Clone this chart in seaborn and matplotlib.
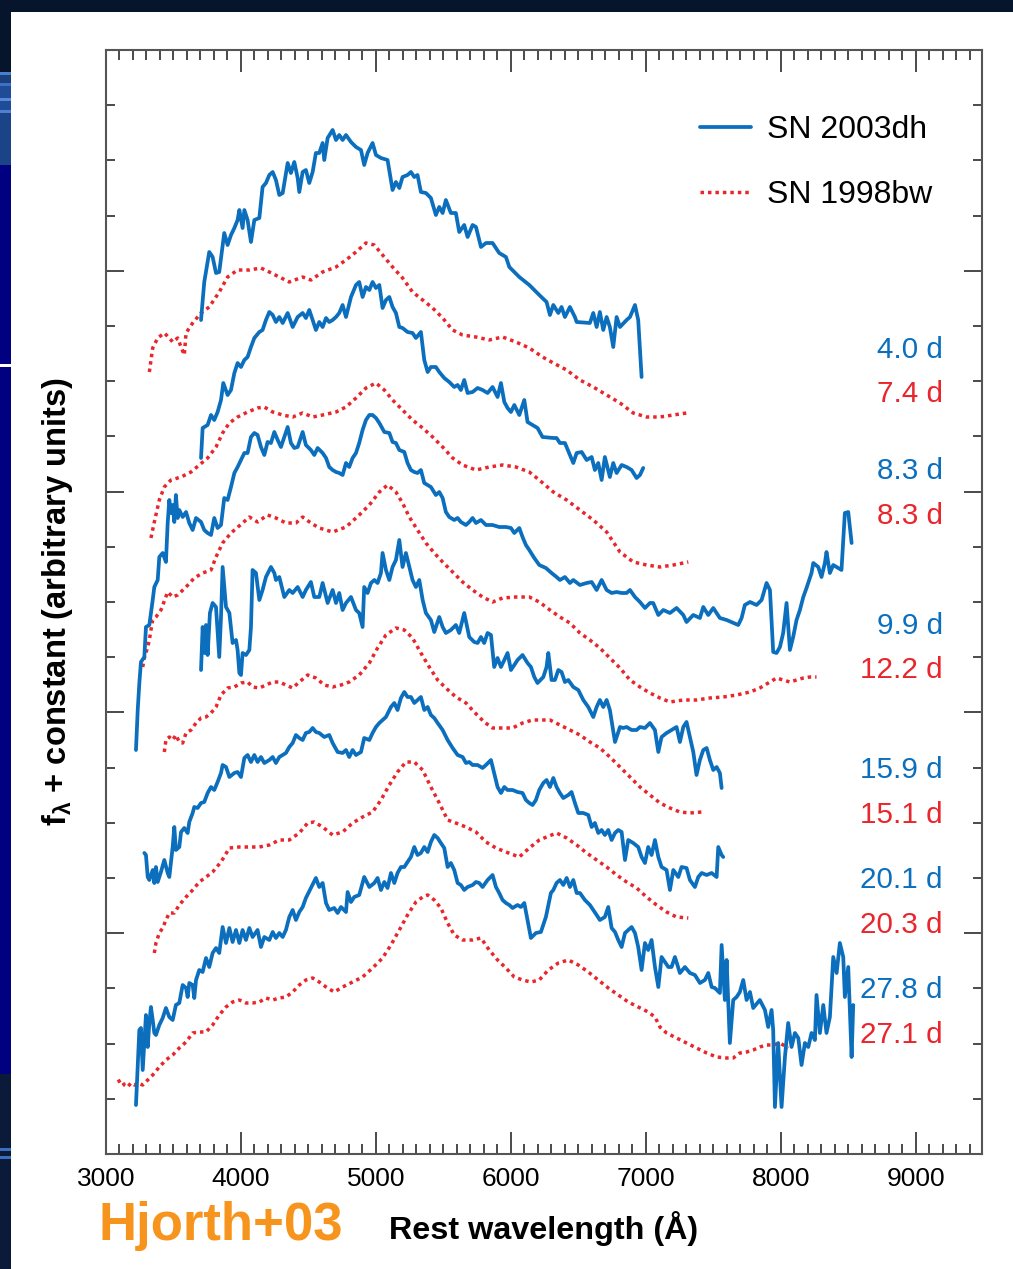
import matplotlib
matplotlib.use("Agg")
import matplotlib.pyplot as plt
import pandas as pd
import seaborn as sns
from matplotlib.lines import Line2D
from matplotlib.patches import Rectangle
from matplotlib.ticker import MultipleLocator

# ---------------------------------------------------------------------------
# Spectra: (rest wavelength [Angstrom], f_lambda + constant [arbitrary units])
# ---------------------------------------------------------------------------
dh_040 = [(3704, 83.4), (3728, 87.2), (3765, 90.2), (3790, 89.7), (3815, 88.1), (3839, 88.2),
          (3876, 92.1), (3901, 90.9), (3926, 91.9), (3951, 92.6), (3975, 93.4), (3988, 94.4),
          (4012, 92.6), (4025, 94.4), (4049, 93.4), (4074, 91.2), (4099, 93.4), (4136, 93.6),
          (4160, 96.7), (4185, 97.1), (4210, 97.9), (4235, 98.2), (4259, 97.4), (4284, 95.9),
          (4309, 96.1), (4346, 99.1), (4370, 98.1), (4395, 99.2), (4420, 97.6), (4432, 96.2),
          (4457, 98.2), (4481, 98.4), (4506, 97.1), (4531, 98.2), (4555, 100.1), (4580, 100.1),
          (4605, 101.1), (4617, 99.4), (4642, 101.6), (4679, 102.4), (4704, 101.4), (4728, 101.9),
          (4753, 101.4), (4778, 101.9), (4815, 101.2), (4852, 100.7), (4889, 100.4), (4913, 98.9),
          (4938, 100.1), (4975, 101.1), (5000, 99.9), (5037, 99.6), (5086, 99.4), (5123, 96.4),
          (5148, 97.2), (5173, 96.6), (5197, 97.7), (5234, 97.9), (5259, 98.2), (5284, 97.7),
          (5308, 97.9), (5333, 96.2), (5370, 96.1), (5407, 95.6), (5444, 93.9), (5469, 94.7),
          (5494, 94.1), (5518, 95.4), (5555, 94.1), (5592, 94.1), (5617, 92.2), (5654, 92.9),
          (5679, 91.7), (5716, 92.9), (5741, 92.7), (5778, 90.7), (5815, 91.1), (5864, 91.1),
          (5913, 90.1), (5963, 89.7), (5988, 88.7), (6062, 87.7), (6136, 86.9), (6210, 85.9),
          (6264, 85.2), (6289, 83.9), (6314, 84.9), (6351, 84.1), (6375, 84.7), (6400, 83.7),
          (6437, 84.7), (6474, 83.7), (6487, 83.2), (6585, 83.1), (6610, 84.1), (6635, 82.7),
          (6659, 84.2), (6684, 82.4), (6709, 83.7), (6733, 82.7), (6758, 80.7), (6783, 83.7),
          (6808, 82.7), (6857, 83.4), (6882, 83.7), (6919, 84.9), (6943, 83.4), (6968, 77.7)]

dh_083 = [(3704, 69.6), (3716, 72.6), (3753, 72.9), (3778, 73.9), (3802, 73.4), (3827, 74.2),
          (3852, 75.4), (3869, 77.1), (3901, 75.9), (3926, 76.4), (3951, 78.1), (3975, 79.1),
          (4000, 78.7), (4025, 79.4), (4049, 79.7), (4074, 80.7), (4099, 81.6), (4136, 82.2),
          (4160, 82.4), (4185, 83.4), (4210, 84.2), (4235, 83.9), (4259, 83.2), (4284, 83.7),
          (4309, 83.1), (4346, 84.1), (4383, 82.7), (4420, 83.7), (4457, 84.1), (4481, 83.6),
          (4506, 84.4), (4531, 83.4), (4555, 82.4), (4580, 83.2), (4605, 82.7), (4630, 83.6),
          (4654, 83.2), (4679, 83.4), (4704, 83.7), (4728, 84.1), (4753, 84.9), (4778, 83.7),
          (4815, 85.7), (4852, 86.9), (4876, 87.2), (4901, 85.7), (4926, 86.7), (4951, 86.4),
          (4975, 87.2), (5000, 86.6), (5025, 86.9), (5049, 84.6), (5074, 85.4), (5099, 85.7),
          (5123, 84.7), (5148, 84.1), (5173, 82.7), (5197, 82.6), (5234, 82.2), (5271, 82.1),
          (5296, 81.6), (5333, 82.2), (5358, 79.4), (5383, 78.2), (5407, 78.7), (5444, 78.7),
          (5469, 78.2), (5506, 77.6), (5543, 77.2), (5580, 76.7), (5605, 76.9), (5629, 76.4),
          (5654, 77.4), (5679, 76.1), (5716, 76.2), (5753, 76.6), (5790, 76.4), (5827, 76.1),
          (5864, 76.7), (5901, 75.7), (5926, 77.1), (5951, 75.2), (5975, 74.6), (6000, 74.2),
          (6025, 74.9), (6062, 73.9), (6099, 75.4), (6123, 73.2), (6160, 72.9), (6197, 72.6),
          (6234, 71.7), (6314, 71.6), (6338, 71.6), (6363, 71.1), (6400, 71.1), (6437, 69.9),
          (6462, 69.1), (6487, 70.1), (6524, 70.2), (6561, 69.4), (6598, 69.7), (6622, 68.4),
          (6647, 69.1), (6672, 67.4), (6696, 69.7), (6733, 67.7), (6758, 69.1), (6783, 68.1),
          (6820, 68.9), (6857, 68.7), (6894, 68.4), (6931, 67.6), (6956, 67.9), (6980, 68.6)]

dh_099 = [(3222, 40.4), (3235, 44.4), (3247, 47.1), (3259, 49.2), (3284, 49.7), (3296, 52.7),
          (3321, 52.9), (3346, 55.4), (3358, 56.7), (3383, 57.4), (3395, 59.7), (3420, 60.1),
          (3444, 59.2), (3457, 63.1), (3469, 65.4), (3481, 64.1), (3494, 64.9), (3506, 63.2),
          (3518, 65.9), (3531, 63.6), (3543, 64.4), (3568, 63.7), (3593, 64.2), (3617, 63.1),
          (3642, 62.4), (3667, 63.6), (3704, 63.2), (3728, 62.4), (3753, 62.1), (3778, 61.9),
          (3802, 63.6), (3827, 62.6), (3852, 62.9), (3876, 65.6), (3901, 65.4), (3926, 66.7),
          (3951, 68.1), (3975, 68.7), (4000, 69.4), (4025, 70.1), (4049, 70.1), (4074, 71.7),
          (4099, 72.1), (4123, 71.9), (4148, 70.7), (4173, 69.9), (4197, 71.2), (4222, 71.1),
          (4247, 72.2), (4272, 71.4), (4296, 70.7), (4321, 71.7), (4346, 72.7), (4370, 71.1),
          (4395, 70.6), (4420, 70.7), (4457, 72.2), (4481, 70.9), (4518, 70.4), (4543, 69.9),
          (4568, 70.6), (4605, 70.1), (4630, 69.6), (4654, 68.7), (4679, 68.4), (4704, 68.2),
          (4728, 68.1), (4753, 67.9), (4778, 69.1), (4802, 68.7), (4827, 69.6), (4852, 70.1),
          (4876, 71.1), (4901, 72.4), (4926, 73.4), (4951, 73.9), (4975, 73.9), (5000, 73.6),
          (5025, 73.1), (5062, 72.2), (5099, 72.1), (5123, 71.2), (5148, 71.1), (5173, 70.4),
          (5210, 70.2), (5234, 69.1), (5259, 68.4), (5284, 68.2), (5308, 68.1), (5333, 68.4),
          (5358, 67.1), (5383, 66.9), (5407, 66.7), (5444, 65.9), (5469, 66.2), (5494, 65.6),
          (5518, 64.2), (5543, 63.7), (5580, 63.4), (5605, 63.6), (5629, 63.2), (5667, 62.9),
          (5691, 63.2), (5716, 63.6), (5741, 63.1), (5778, 63.4), (5815, 62.9), (5864, 62.9),
          (5913, 62.7), (5963, 62.7), (6000, 62.6), (6025, 62.1), (6062, 62.6), (6086, 61.7),
          (6111, 60.9), (6136, 60.4), (6173, 59.6), (6210, 58.9), (6259, 58.6), (6301, 58.1),
          (6338, 57.7), (6363, 57.4), (6400, 57.7), (6437, 57.1), (6462, 57.4), (6511, 56.9),
          (6561, 57.1), (6598, 57.2), (6635, 56.4), (6672, 57.4), (6709, 56.4), (6746, 56.1),
          (6783, 56.2), (6820, 56.1), (6857, 56.1), (6882, 56.4), (6919, 55.7), (6956, 55.2),
          (6993, 54.6), (7030, 55.1), (7054, 55.1), (7092, 53.9), (7129, 54.4), (7178, 54.1),
          (7227, 54.6), (7277, 53.9), (7301, 53.2), (7351, 53.9), (7400, 53.6), (7425, 54.7),
          (7462, 53.9), (7499, 54.6), (7548, 53.6), (7598, 53.4), (7684, 52.9), (7709, 53.6),
          (7733, 54.9), (7771, 55.2), (7820, 54.9), (7857, 55.4), (7894, 57.1), (7919, 56.4),
          (7943, 50.2), (7968, 50.1), (7993, 50.7), (8017, 52.1), (8042, 55.1), (8067, 50.4),
          (8091, 51.7), (8116, 53.4), (8141, 54.4), (8166, 55.7), (8190, 56.6), (8227, 58.1),
          (8240, 59.1), (8277, 58.7), (8301, 57.7), (8326, 59.1), (8338, 60.2), (8363, 58.1),
          (8388, 58.9), (8425, 58.6), (8449, 58.4), (8474, 64.1), (8499, 64.2), (8524, 61.1)]

dh_159 = [(3704, 48.4), (3716, 52.7), (3731, 50.1), (3741, 52.9), (3753, 49.9), (3770, 54.1),
          (3790, 55.1), (3815, 54.7), (3839, 49.7), (3852, 53.7), (3864, 58.7), (3889, 54.7),
          (3914, 54.1), (3938, 51.1), (3963, 51.4), (3975, 50.4), (3988, 48.1), (4000, 47.9),
          (4012, 50.1), (4037, 49.9), (4062, 50.4), (4074, 52.7), (4086, 58.4), (4111, 58.1),
          (4136, 55.4), (4160, 56.4), (4185, 57.7), (4222, 58.7), (4247, 58.1), (4259, 57.4),
          (4284, 57.7), (4321, 55.7), (4358, 56.4), (4383, 56.1), (4420, 56.7), (4457, 55.7),
          (4481, 56.4), (4518, 57.2), (4543, 55.7), (4580, 55.7), (4605, 57.1), (4642, 55.1),
          (4679, 56.4), (4704, 55.1), (4728, 56.1), (4753, 54.4), (4778, 55.1), (4815, 55.7),
          (4852, 54.4), (4876, 54.1), (4901, 52.7), (4913, 56.7), (4938, 56.1), (4963, 57.1),
          (4988, 57.4), (5012, 57.1), (5037, 58.1), (5049, 60.1), (5074, 58.4), (5099, 57.4),
          (5123, 58.7), (5148, 59.4), (5173, 61.4), (5197, 58.7), (5222, 60.1), (5247, 58.7),
          (5271, 57.4), (5296, 56.7), (5321, 57.4), (5346, 55.4), (5370, 54.1), (5407, 53.4),
          (5432, 52.2), (5469, 53.7), (5494, 52.7), (5518, 52.1), (5555, 52.4), (5592, 52.9),
          (5617, 52.1), (5654, 54.1), (5691, 51.7), (5728, 51.2), (5753, 51.1), (5778, 51.7),
          (5802, 51.1), (5827, 52.1), (5852, 51.9), (5876, 48.7), (5901, 49.6), (5926, 48.7),
          (5951, 49.4), (5975, 50.1), (6000, 48.4), (6025, 48.9), (6049, 49.4), (6086, 49.9),
          (6123, 49.1), (6148, 48.7), (6173, 47.7), (6197, 47.1), (6240, 47.7), (6264, 48.7),
          (6277, 50.1), (6301, 47.4), (6326, 47.4), (6351, 48.4), (6375, 48.2), (6400, 47.2),
          (6425, 47.4), (6462, 46.7), (6499, 46.4), (6536, 45.4), (6573, 44.7), (6610, 43.7),
          (6635, 44.7), (6659, 45.4), (6684, 44.7), (6709, 45.4), (6733, 44.4), (6771, 41.2),
          (6808, 42.7), (6832, 42.6), (6857, 42.7), (6894, 42.4), (6931, 42.4), (6956, 42.7),
          (6993, 42.6), (7030, 43.1), (7067, 42.4), (7092, 40.2), (7116, 41.7), (7153, 42.1),
          (7190, 42.4), (7227, 42.7), (7252, 41.2), (7277, 42.7), (7301, 43.2), (7326, 41.7),
          (7351, 40.2), (7375, 37.9), (7400, 39.4), (7425, 40.4), (7450, 40.6), (7474, 39.4),
          (7499, 38.4), (7524, 38.7), (7548, 38.1), (7561, 36.6)]

dh_201 = [(3284, 30.1), (3296, 29.9), (3309, 27.7), (3321, 27.4), (3346, 28.4), (3358, 27.1),
          (3370, 28.7), (3383, 27.2), (3407, 28.2), (3432, 29.4), (3457, 28.1), (3469, 27.7),
          (3481, 29.1), (3494, 30.7), (3506, 32.7), (3518, 30.4), (3543, 30.7), (3556, 32.2),
          (3580, 32.6), (3605, 32.1), (3617, 33.2), (3642, 34.1), (3654, 34.7), (3679, 34.6),
          (3704, 35.1), (3728, 35.2), (3753, 36.1), (3778, 36.7), (3802, 36.4), (3827, 37.2),
          (3852, 38.1), (3864, 38.9), (3889, 38.7), (3914, 37.7), (3951, 38.1), (3975, 38.2),
          (4000, 37.7), (4025, 39.6), (4049, 39.9), (4074, 39.2), (4099, 39.9), (4123, 39.2),
          (4148, 39.7), (4173, 39.1), (4210, 39.4), (4235, 39.7), (4259, 39.1), (4284, 39.7),
          (4309, 39.9), (4333, 40.1), (4358, 40.7), (4383, 41.1), (4407, 41.9), (4432, 41.6),
          (4457, 41.4), (4481, 42.1), (4506, 42.2), (4531, 42.6), (4555, 42.2), (4580, 42.1),
          (4617, 41.7), (4654, 41.9), (4679, 41.1), (4716, 40.2), (4753, 40.1), (4778, 40.4),
          (4802, 39.7), (4827, 40.4), (4852, 39.9), (4889, 40.2), (4913, 41.6), (4951, 41.4),
          (4975, 42.1), (5000, 42.7), (5025, 43.1), (5049, 43.4), (5074, 43.7), (5111, 44.7),
          (5136, 45.1), (5160, 44.4), (5185, 45.6), (5210, 46.2), (5234, 45.7), (5259, 45.7),
          (5284, 45.1), (5308, 45.4), (5333, 45.7), (5358, 44.4), (5383, 44.7), (5407, 43.9),
          (5432, 43.6), (5457, 43.1), (5494, 42.4), (5531, 41.4), (5568, 40.6), (5605, 39.9),
          (5642, 39.7), (5667, 39.1), (5691, 39.2), (5716, 38.9), (5753, 38.9), (5790, 38.6),
          (5815, 38.9), (5852, 39.4), (5876, 38.1), (5901, 36.7), (5926, 36.1), (5951, 36.7),
          (5975, 36.4), (6012, 36.4), (6049, 36.2), (6086, 36.1), (6111, 35.4), (6136, 35.1),
          (6160, 34.9), (6185, 35.4), (6210, 36.4), (6240, 37.1), (6264, 37.4), (6289, 36.7),
          (6314, 37.6), (6338, 36.7), (6363, 36.1), (6388, 35.6), (6425, 35.9), (6449, 36.2),
          (6474, 35.1), (6499, 34.1), (6536, 34.1), (6573, 33.9), (6598, 32.7), (6622, 33.1),
          (6647, 32.1), (6672, 32.4), (6696, 31.9), (6721, 32.4), (6746, 31.4), (6771, 32.1),
          (6795, 32.4), (6820, 32.2), (6845, 29.4), (6869, 31.4), (6906, 31.1), (6943, 30.7),
          (6968, 29.7), (6993, 29.1), (7017, 30.7), (7042, 29.9), (7067, 31.4), (7092, 29.7),
          (7116, 28.7), (7153, 28.4), (7178, 26.4), (7203, 28.4), (7240, 27.7), (7264, 28.7),
          (7301, 28.6), (7326, 27.4), (7363, 26.7), (7388, 27.7), (7413, 28.1), (7450, 27.9),
          (7487, 28.1), (7524, 27.7), (7536, 30.7), (7561, 29.9), (7573, 29.7)]

dh_278 = [(3222, 4.9), (3235, 8.7), (3247, 12.4), (3259, 12.6), (3272, 8.4), (3284, 11.1),
          (3296, 13.9), (3309, 10.7), (3321, 13.1), (3333, 14.7), (3346, 13.4), (3358, 12.1),
          (3370, 11.9), (3395, 12.9), (3420, 13.6), (3444, 14.6), (3469, 13.7), (3494, 13.4),
          (3518, 14.9), (3543, 15.1), (3568, 16.9), (3593, 16.6), (3605, 15.7), (3617, 17.1),
          (3642, 16.9), (3654, 15.6), (3667, 17.4), (3691, 18.4), (3716, 18.2), (3741, 19.6),
          (3765, 18.7), (3790, 20.1), (3815, 20.6), (3839, 20.1), (3864, 22.7), (3889, 21.1),
          (3914, 22.6), (3938, 21.2), (3963, 22.4), (3988, 21.1), (4012, 22.4), (4037, 21.4),
          (4062, 22.6), (4086, 21.7), (4123, 22.4), (4148, 20.7), (4173, 21.7), (4210, 21.4),
          (4235, 22.2), (4259, 21.6), (4284, 22.1), (4309, 21.7), (4333, 22.4), (4358, 23.7),
          (4383, 24.4), (4407, 23.4), (4432, 24.2), (4457, 24.7), (4481, 25.6), (4518, 26.6),
          (4555, 27.6), (4580, 26.7), (4605, 27.1), (4630, 25.1), (4654, 24.4), (4691, 24.6),
          (4716, 24.1), (4741, 24.7), (4778, 24.2), (4790, 26.2), (4815, 25.2), (4839, 25.7),
          (4876, 25.9), (4913, 27.7), (4951, 26.7), (4988, 27.1), (5012, 27.6), (5037, 26.4),
          (5062, 27.2), (5086, 26.6), (5111, 28.1), (5136, 27.1), (5160, 28.1), (5185, 28.7),
          (5210, 28.7), (5234, 29.2), (5259, 29.7), (5284, 30.7), (5308, 29.9), (5333, 30.1),
          (5358, 30.7), (5383, 30.2), (5407, 31.2), (5432, 31.9), (5457, 31.6), (5481, 31.1),
          (5506, 30.6), (5531, 28.7), (5555, 29.1), (5580, 28.4), (5605, 27.1), (5629, 26.9),
          (5654, 26.4), (5679, 26.7), (5716, 26.9), (5741, 27.2), (5765, 27.1), (5790, 26.7),
          (5827, 27.4), (5864, 27.9), (5889, 26.7), (5913, 26.1), (5938, 25.4), (5963, 25.1),
          (5988, 24.9), (6012, 24.6), (6049, 24.9), (6074, 24.7), (6099, 25.1), (6123, 23.4),
          (6148, 21.6), (6185, 22.1), (6222, 22.2), (6259, 23.7), (6296, 26.1), (6314, 26.4),
          (6338, 27.1), (6363, 27.4), (6388, 26.9), (6413, 27.6), (6437, 26.7), (6462, 27.4),
          (6487, 26.1), (6511, 26.1), (6548, 25.4), (6585, 24.9), (6610, 24.4), (6635, 23.9),
          (6659, 23.4), (6696, 23.7), (6721, 24.7), (6746, 22.6), (6771, 22.2), (6795, 21.4),
          (6820, 20.7), (6845, 22.1), (6869, 22.4), (6894, 22.7), (6919, 22.1), (6943, 20.7),
          (6968, 18.4), (6993, 21.1), (7017, 20.4), (7042, 21.4), (7067, 18.7), (7092, 16.7),
          (7116, 19.7), (7141, 19.2), (7166, 18.7), (7190, 18.7), (7215, 19.7), (7252, 18.1),
          (7289, 18.7), (7326, 18.1), (7363, 17.9), (7400, 17.1), (7437, 17.4), (7462, 18.1),
          (7487, 16.7), (7511, 16.6), (7548, 16.1), (7561, 20.9), (7585, 15.4), (7598, 19.4),
          (7622, 11.1), (7647, 15.4), (7672, 15.7), (7696, 16.2), (7721, 17.4), (7746, 15.4),
          (7771, 16.2), (7795, 14.6), (7844, 15.4), (7882, 14.4), (7906, 12.7), (7931, 14.4),
          (7943, 12.4), (7956, 4.7), (7980, 11.1), (8005, 4.7), (8030, 9.7), (8054, 13.1),
          (8079, 10.7), (8104, 12.1), (8129, 11.6), (8153, 8.9), (8178, 11.1), (8203, 10.7),
          (8227, 12.1), (8252, 11.4), (8264, 15.9), (8289, 12.1), (8314, 14.9), (8338, 12.1),
          (8363, 13.7), (8388, 19.7), (8413, 18.1), (8437, 21.1), (8462, 19.7), (8474, 15.7),
          (8499, 18.7), (8524, 9.7), (8536, 14.9)]

bw_074 = [(3321, 78.2), (3346, 80.6), (3383, 81.6), (3432, 82.1), (3469, 81.6), (3494, 81.2),
          (3531, 81.6), (3556, 80.7), (3580, 79.9), (3593, 82.1), (3642, 83.1), (3704, 84.1),
          (3765, 84.7), (3839, 86.2), (3901, 87.7), (3975, 88.4), (4062, 88.4), (4148, 88.6),
          (4210, 88.2), (4284, 87.7), (4358, 87.2), (4457, 87.7), (4518, 87.4), (4605, 88.2),
          (4704, 88.7), (4778, 89.4), (4852, 90.2), (4926, 91.1), (4988, 90.9), (5049, 89.9),
          (5123, 88.7), (5197, 87.6), (5271, 86.2), (5346, 85.4), (5420, 84.6), (5494, 83.6),
          (5568, 82.4), (5642, 81.9), (5741, 81.7), (5839, 81.4), (5938, 81.7), (6037, 81.2),
          (6136, 80.6), (6234, 79.7), (6314, 79.1), (6413, 78.4), (6511, 77.4), (6610, 76.7),
          (6709, 75.9), (6808, 75.1), (6906, 74.1), (7005, 73.7), (7104, 73.7), (7203, 73.9),
          (7301, 74.1)]

bw_083 = [(3333, 61.6), (3358, 63.2), (3395, 65.4), (3432, 66.7), (3481, 67.4), (3556, 67.7),
          (3630, 68.2), (3691, 68.9), (3753, 69.6), (3815, 70.7), (3864, 72.1), (3914, 73.1),
          (3975, 73.7), (4049, 74.2), (4123, 74.6), (4173, 74.7), (4235, 74.2), (4309, 73.9),
          (4383, 73.7), (4457, 74.1), (4531, 73.7), (4605, 73.9), (4704, 74.2), (4778, 74.7),
          (4852, 75.6), (4926, 76.6), (5000, 77.1), (5062, 76.4), (5123, 75.4), (5197, 74.4),
          (5271, 73.4), (5346, 72.6), (5420, 71.7), (5494, 70.7), (5568, 69.6), (5642, 68.9),
          (5741, 68.4), (5839, 68.7), (5938, 68.9), (6037, 68.7), (6136, 68.2), (6210, 67.4),
          (6314, 66.2), (6413, 65.4), (6511, 64.4), (6610, 63.4), (6709, 62.2), (6808, 60.2),
          (6906, 59.2), (7005, 58.9), (7104, 58.7), (7203, 58.9), (7314, 59.2)]

bw_122 = [(3272, 48.7), (3284, 49.6), (3309, 50.7), (3321, 51.4), (3333, 52.4), (3346, 53.4),
          (3370, 53.7), (3407, 54.4), (3457, 56.2), (3494, 55.7), (3531, 55.9), (3593, 56.7),
          (3654, 57.6), (3716, 58.1), (3778, 58.4), (3815, 59.7), (3864, 61.1), (3926, 62.1),
          (4012, 63.1), (4062, 63.7), (4123, 63.2), (4197, 63.9), (4259, 63.6), (4333, 63.1),
          (4407, 63.1), (4457, 63.7), (4518, 63.1), (4580, 62.6), (4679, 62.2), (4778, 62.7),
          (4876, 63.9), (4951, 64.9), (5025, 66.2), (5086, 66.9), (5148, 66.2), (5197, 65.1),
          (5247, 63.7), (5308, 62.4), (5370, 61.1), (5432, 60.1), (5494, 59.2), (5568, 58.2),
          (5642, 57.2), (5716, 56.4), (5790, 55.7), (5864, 55.2), (5938, 55.6), (6037, 55.7),
          (6136, 55.7), (6210, 55.2), (6289, 54.4), (6363, 53.7), (6437, 53.1), (6511, 52.1),
          (6585, 51.4), (6659, 50.6), (6733, 49.6), (6808, 48.6), (6882, 47.4), (6956, 46.7),
          (7030, 46.1), (7104, 45.6), (7178, 45.2), (7277, 45.4), (7375, 45.4), (7474, 45.6),
          (7573, 45.7), (7672, 45.9), (7771, 46.2), (7844, 46.6), (7919, 47.2), (7968, 47.6),
          (8017, 47.4), (8067, 47.2), (8116, 47.4), (8166, 47.6), (8215, 47.7), (8264, 47.7)]

bw_151 = [(3432, 40.2), (3444, 41.4), (3469, 41.7), (3494, 41.4), (3518, 41.9), (3543, 41.2),
          (3568, 41.1), (3593, 42.1), (3630, 42.4), (3667, 43.1), (3704, 43.6), (3741, 43.7),
          (3778, 44.1), (3815, 44.7), (3852, 45.9), (3901, 46.6), (3951, 46.7), (4000, 47.1),
          (4049, 47.2), (4086, 46.7), (4136, 46.6), (4185, 46.9), (4235, 47.2), (4284, 47.2),
          (4333, 46.9), (4383, 46.6), (4432, 47.2), (4494, 47.9), (4555, 47.6), (4617, 46.9),
          (4679, 46.7), (4741, 46.9), (4802, 47.2), (4876, 47.9), (4951, 49.1), (5012, 50.6),
          (5074, 51.9), (5148, 52.6), (5210, 52.4), (5271, 51.6), (5333, 50.1), (5395, 48.7),
          (5457, 47.4), (5518, 46.6), (5592, 45.7), (5667, 45.1), (5728, 44.2), (5802, 43.2),
          (5864, 42.6), (5938, 42.6), (6012, 42.6), (6086, 43.1), (6160, 43.4), (6234, 43.4),
          (6289, 43.4), (6363, 42.9), (6437, 42.4), (6511, 41.9), (6585, 41.2), (6659, 40.6),
          (6733, 39.7), (6808, 38.7), (6882, 37.7), (6956, 36.7), (7030, 35.9), (7104, 35.1),
          (7178, 34.6), (7252, 34.2), (7326, 34.1), (7413, 34.2)]

bw_203 = [(3358, 20.1), (3370, 21.1), (3395, 22.1), (3420, 22.6), (3444, 23.4), (3469, 24.1),
          (3506, 24.1), (3543, 24.9), (3593, 25.7), (3642, 26.4), (3691, 27.2), (3741, 27.7),
          (3790, 28.2), (3852, 29.2), (3914, 30.6), (3988, 30.7), (4062, 30.7), (4136, 30.7),
          (4210, 30.9), (4284, 31.4), (4358, 31.4), (4432, 32.1), (4494, 33.1), (4543, 33.2),
          (4605, 32.7), (4679, 31.9), (4753, 32.2), (4827, 33.1), (4901, 33.7), (4975, 34.2),
          (5037, 35.4), (5099, 36.9), (5160, 38.2), (5222, 39.2), (5284, 39.2), (5346, 38.4),
          (5407, 36.7), (5469, 35.1), (5531, 33.4), (5592, 33.1), (5667, 32.7), (5741, 32.2),
          (5815, 31.2), (5889, 30.6), (5963, 30.2), (6062, 29.7), (6136, 30.6), (6210, 31.4),
          (6264, 31.7), (6338, 32.1), (6413, 31.6), (6487, 30.9), (6561, 30.1), (6635, 29.4),
          (6709, 28.7), (6783, 27.9), (6857, 27.2), (6931, 26.6), (7005, 25.7), (7079, 24.9),
          (7153, 24.2), (7227, 23.7), (7314, 23.6)]

bw_271 = [(3086, 7.2), (3111, 7.4), (3136, 6.9), (3160, 6.7), (3185, 7.1), (3210, 6.9),
          (3235, 7.1), (3272, 6.9), (3309, 7.4), (3346, 7.9), (3395, 8.7), (3444, 9.4),
          (3494, 9.9), (3543, 10.6), (3593, 11.2), (3642, 12.1), (3691, 12.2), (3741, 12.2),
          (3790, 12.9), (3839, 13.9), (3889, 14.7), (3938, 15.2), (3988, 15.4), (4037, 15.1),
          (4086, 15.1), (4136, 15.2), (4185, 15.6), (4235, 15.4), (4284, 15.6), (4333, 15.7),
          (4383, 16.2), (4432, 16.9), (4481, 17.4), (4531, 17.6), (4580, 17.2), (4630, 16.7),
          (4691, 16.2), (4753, 16.7), (4827, 17.2), (4901, 17.7), (4975, 18.6), (5049, 19.6),
          (5111, 20.9), (5173, 22.4), (5234, 23.9), (5296, 25.2), (5346, 25.7), (5383, 25.9),
          (5432, 25.4), (5481, 24.6), (5531, 23.1), (5580, 21.9), (5642, 21.4), (5716, 21.4),
          (5778, 21.6), (5839, 20.4), (5901, 19.4), (5963, 18.6), (6025, 17.7), (6086, 17.4),
          (6148, 17.2), (6210, 17.4), (6277, 18.4), (6351, 19.1), (6425, 19.4), (6499, 18.9),
          (6573, 18.2), (6647, 17.4), (6721, 16.6), (6795, 15.9), (6869, 15.2), (6943, 14.7),
          (7017, 14.2), (7067, 13.7), (7104, 12.7), (7153, 12.1), (7227, 11.6), (7301, 11.1),
          (7375, 10.6), (7450, 10.1), (7524, 9.7), (7598, 9.6), (7647, 9.6), (7696, 10.1),
          (7746, 10.2), (7795, 10.4), (7844, 10.7), (7894, 10.9), (7943, 10.9), (7993, 11.1),
          (8054, 10.6)]

epochs_2003dh = ["4.0 d", "8.3 d", "9.9 d", "15.9 d", "20.1 d", "27.8 d"]
epochs_1998bw = ["7.4 d", "8.3 d", "12.2 d", "15.1 d", "20.3 d", "27.1 d"]
spectra_2003dh = [dh_040, dh_083, dh_099, dh_159, dh_201, dh_278]
spectra_1998bw = [bw_074, bw_083, bw_122, bw_151, bw_203, bw_271]
supernovae = ["SN 2003dh", "SN 1998bw"]

# ---------------------------------------------------------------------------
# Long-form table
# ---------------------------------------------------------------------------
frames = []
for sn, epochs, spectra in ((supernovae[0], epochs_2003dh, spectra_2003dh),
                            (supernovae[1], epochs_1998bw, spectra_1998bw)):
    for ep, pts in zip(epochs, spectra):
        wl, fl = zip(*pts)
        frames.append(pd.DataFrame({"wavelength": wl, "flux": fl,
                                    "supernova": sn, "spectrum": f"{sn} {ep}"}))
df = pd.concat(frames, ignore_index=True)

# ---------------------------------------------------------------------------
# Style
# ---------------------------------------------------------------------------
sns.set_theme(style="ticks")
plt.rcParams["font.family"] = ["Liberation Sans", "DejaVu Sans"]
plt.rcParams["mathtext.fontset"] = "custom"
plt.rcParams["mathtext.rm"] = "Liberation Sans:bold"
plt.rcParams["mathtext.it"] = "Liberation Sans:bold"
plt.rcParams["mathtext.default"] = "rm"

BLUE = "#0b6fbe"
RED = "#e8262b"
DOTS = (0, (1, 1.15))

W, H = 1013, 1269
fig = plt.figure(figsize=(W / 100, H / 100), dpi=100, facecolor="#06152b")

# slide backdrop behind the figure panel
bands = [(72, 75, "#4a7fd0"), (75, 83, "#1a3f7a"), (83, 86, "#3d6fc4"), (86, 98, "#1f4c96"),
         (98, 101, "#5a88d8"), (101, 110, "#1f4c96"), (110, 113, "#4d80d0"),
         (113, 165, "#1b4488"), (165, 1074, "#000080"), (1074, 1269, "#0b1a38"),
         (1148, 1151, "#3a6fc0"), (1156, 1159, "#3a6fc0"), (364, 367, "white")]
for top, bot, col in bands:
    fig.add_artist(Rectangle((0, 1 - bot / H), 12 / W, (bot - top) / H,
                             transform=fig.transFigure, facecolor=col,
                             edgecolor="none", zorder=-3))
fig.add_artist(Rectangle((11 / W, 0), 1 - 11 / W, 1 - 12 / H, transform=fig.transFigure,
                         facecolor="white", edgecolor="none", zorder=-1))

ax = fig.add_axes([106 / W, (H - 1154) / H, 876 / W, 1104 / H])

sns.lineplot(data=df[df["supernova"] == supernovae[1]], x="wavelength", y="flux",
             units="spectrum", estimator=None, sort=False, color=RED,
             linewidth=2.5, linestyle=DOTS, legend=False, ax=ax)
sns.lineplot(data=df[df["supernova"] == supernovae[0]], x="wavelength", y="flux",
             units="spectrum", estimator=None, sort=False, color=BLUE,
             linewidth=2.7, legend=False, ax=ax)

ax.set_xlim(3000, 9490)
ax.set_ylim(0, 110.4)
ax.xaxis.set_major_locator(MultipleLocator(1000))
ax.xaxis.set_minor_locator(MultipleLocator(100))
ax.yaxis.set_major_locator(MultipleLocator(22.08))
ax.yaxis.set_minor_locator(MultipleLocator(5.52))
ax.tick_params(axis="both", which="both", direction="in", top=True, right=True,
               color="#4a4a4a", width=1.4)
ax.tick_params(axis="x", which="major", length=15.5, labelsize=19, pad=9,
               labelcolor="black")
ax.tick_params(axis="x", which="minor", length=7)
ax.tick_params(axis="y", which="major", length=13, labelleft=False)
ax.tick_params(axis="y", which="minor", length=6.5)
for sp in ax.spines.values():
    sp.set_color("#555555")
    sp.set_linewidth(1.5)

ax.set_xlabel("Rest wavelength (Å)", fontsize=23.3, fontweight="bold", labelpad=15,
              color="black")
ax.set_ylabel(r"f$_{\lambda}$ + constant (arbitrary units)", fontsize=23.5,
              fontweight="bold", labelpad=19, color="black")

handles = [Line2D([], [], color=BLUE, lw=2.7),
           Line2D([], [], color=RED, lw=2.5, linestyle=DOTS)]
ax.legend(handles, supernovae, loc="upper left", bbox_to_anchor=(0.678, 0.941),
          frameon=False, fontsize=23, handlelength=1.6, handletextpad=0.5,
          labelspacing=1.1, borderpad=0, borderaxespad=0, labelcolor="black")

# epoch labels at the right-hand side
label_y = {"SN 2003dh": [80.4, 68.3, 52.8, 38.4, 27.4, 16.4],
           "SN 1998bw": [76.0, 63.8, 48.4, 33.9, 22.9, 11.9]}
for sn, epochs, col in ((supernovae[0], epochs_2003dh, BLUE),
                        (supernovae[1], epochs_1998bw, RED)):
    for ep, yy in zip(epochs, label_y[sn]):
        ax.text(9200, yy, ep, ha="right", va="center", fontsize=21.3, color=col)

fig.text(98 / W, 1 - 1240 / H, "Hjorth+03", color="#f7941d", fontsize=38,
         fontweight="bold", ha="left", va="baseline")

fig.savefig("out.png", dpi=100)
